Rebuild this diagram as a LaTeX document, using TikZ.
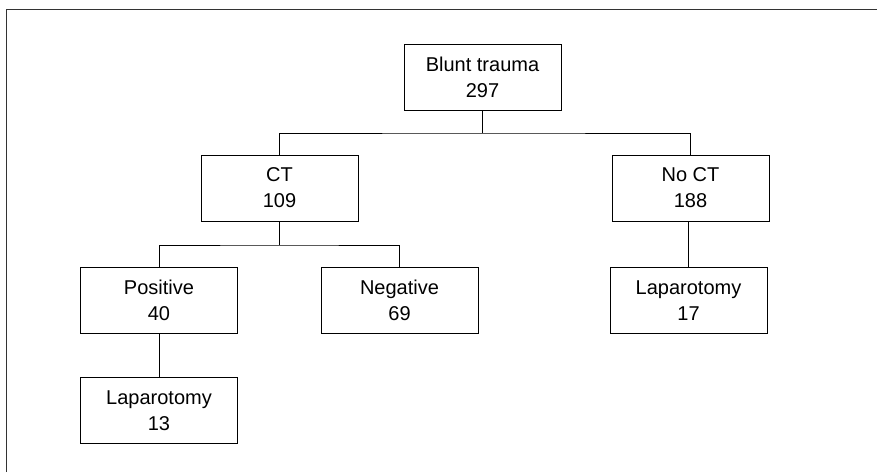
\documentclass[tikz,border=0pt]{standalone}
\usepackage{fontspec}
\setmainfont{Liberation Sans}
\usepackage{tikz}
\usetikzlibrary{positioning}

\begin{document}
\begin{tikzpicture}[
        x=1pt, y=-1pt,
        box/.style={
            draw,
            line width=0.9pt,
            minimum width=157pt,
            minimum height=66pt,
            inner sep=0pt,
            font=\fontsize{20}{26}\selectfont,
            align=center
        },
        link/.style={line width=0.9pt}
    ]
        \useasboundingbox (0,0) rectangle (877,472);
        % outer frame
        \draw[line width=0.9pt, black!80] (6,472) -- (6,9) -- (877,9);

        % top level
        \node[box] (blunt) at (482.5,77) {Blunt trauma\\297};

        % second level
        \node[box] (ct) at (279.5,188) {CT\\109};
        \node[box] (noct) at (690.5,188) {No CT\\188};

        % third level
        \node[box] (pos) at (159,300) {Positive\\40};
        \node[box] (neg) at (399.5,300) {Negative\\69};
        \node[box, below=46pt of noct.south, anchor=north, xshift=-2pt] (lapnoct) {Laparotomy\\17};

        % fourth level
        \node[box, below=44pt of pos.south, anchor=north] (lappos) {Laparotomy\\13};

        % connectors
        \coordinate (split1) at (482.5,133);
        \coordinate (split2) at (279.5,245);
        \draw[link] (blunt.south) -- (split1);
        \draw[link] (ct.north) |- (split1) -| (noct.north);
        \draw[link] (ct.south) -- (split2);
        \draw[link] (pos.north) |- (split2) -| (neg.north);
        \draw[link] (pos.south) -- (lappos.north);
        \draw[link] (noct.south -| lapnoct.north) -- (lapnoct.north);
    \end{tikzpicture}
\end{document}
